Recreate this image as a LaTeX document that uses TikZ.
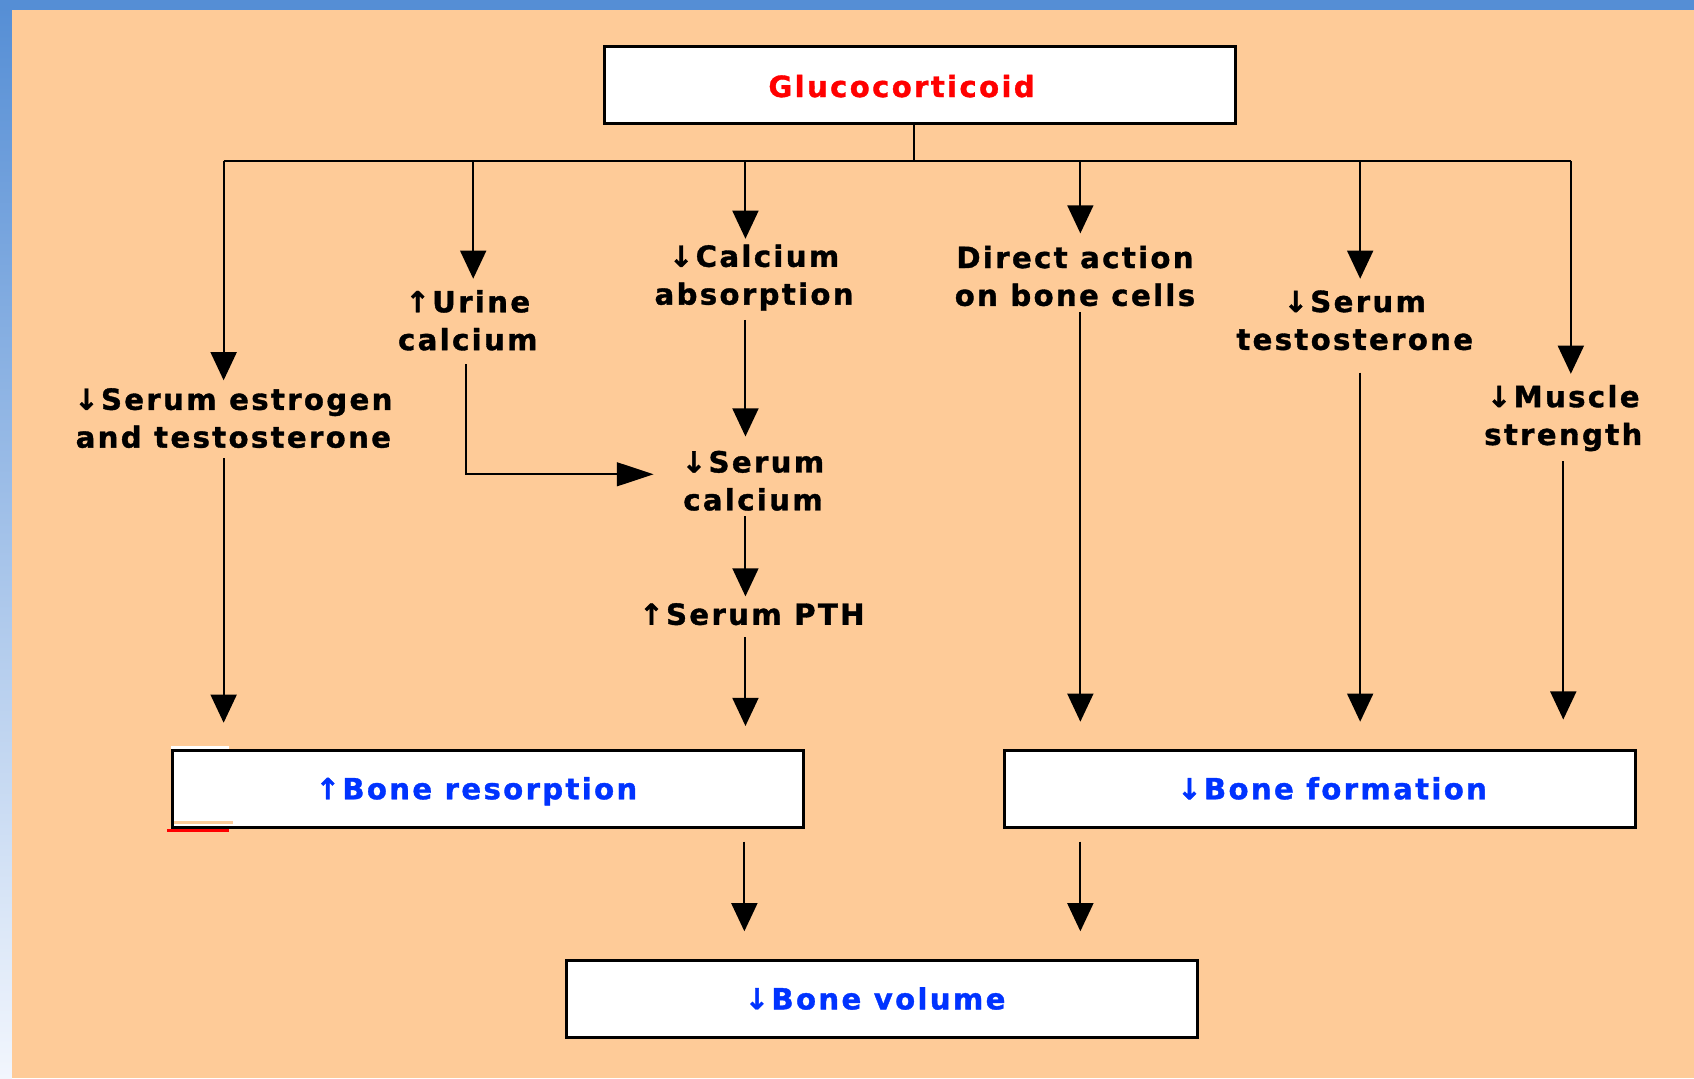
\documentclass[tikz,border=0pt]{standalone}
\usepackage{fontspec}
\setmainfont{DejaVu Sans}[LetterSpace=8, BoldFeatures={FakeBold=1.2}]
\usetikzlibrary{arrows.meta}
\definecolor{peach}{RGB}{254,203,152}
\definecolor{frameblue}{RGB}{85,142,213}
\definecolor{framelight}{RGB}{242,246,253}
\definecolor{txtblue}{RGB}{0,51,255}
\definecolor{txtred}{RGB}{255,0,0}
\begin{document}
\begin{tikzpicture}[x=0.5pt,y=-0.5pt,
  box/.style={draw=black, line width=1.4pt, fill=white, minimum width=292pt, minimum height=35.5pt, inner sep=0pt, text height=9.8pt, text depth=0pt, font=\fontsize{13.5}{17.5}\selectfont\bfseries},
  lbl/.style={align=center, inner sep=0pt, font=\fontsize{13.5}{17.5}\selectfont\bfseries},
  conn/.style={line width=0.9pt, -{Triangle[length=13pt,width=12pt]}},
  hconn/.style={line width=0.9pt, -{Triangle[length=17pt,width=11pt]}},
  plain/.style={line width=0.9pt}]
% background and frame
\fill[peach] (0,0) rectangle (1568,998);
\shade[top color=frameblue, bottom color=framelight] (0,0) rectangle (11,998);
\fill[frameblue] (0,0) rectangle (1568,9.3);
\useasboundingbox (0,0) rectangle (1568,998);

% boxes
\node[box, text=txtred, text height=11.3pt] (gluc) at (851.5,78.5) {Glucocorticoid\hspace*{17pt}};
\node[box, text=txtblue] (res) at (452,730) {↑Bone resorption\hspace*{11pt}};
\node[box, text=txtblue] (form) at (1222,730) {\hspace*{11pt}↓Bone formation};
\node[box, text=txtblue] (vol) at (816,924.5) {↓Bone volume\hspace*{6pt}};

% artifacts at the corner of the resorption box
\fill[white] (158,690.5) rectangle (212,693);
\fill[peach] (161,760) rectangle (216,763);
\fill[red] (155,767) rectangle (212,770);

% labels
\node[lbl] (estr) at (216,387) {↓Serum estrogen\\and testosterone};
\node[lbl] (urine) at (433,296.5) {↑Urine\\calcium};
\node[lbl] (cabs) at (698,257) {↓Calcium\\absorption};
\node[lbl] (direct) at (995,255.5) {Direct action\\on bone cells};
\node[lbl] (stest) at (1254,296.5) {↓Serum\\testosterone};
\node[lbl] (muscle) at (1447,387) {↓Muscle\\strength};
\node[lbl] (scal) at (697,445) {↓Serum\\calcium};
\node[lbl] (pth) at (696,568.5) {↑Serum PTH};

% bus
\coordinate (stem) at (846,149);
\coordinate (busL) at (207,149);
\coordinate (busR) at (1454,149);
\draw[plain] (gluc.south -| stem) -- (stem);
\draw[plain] (busL) -- (busR);

% drop end points
\coordinate (dUrine) at (438,149);
\coordinate (dCabs) at (690,149);
\coordinate (dDirect) at (1000,149);
\coordinate (dStest) at (1259,149);
\coordinate (tEstr) at (207,352);
\coordinate (tUrine) at (438,258);
\coordinate (tCabs) at (690,221);
\coordinate (tDirect) at (1000,216);
\coordinate (tStest) at (1259,258);
\coordinate (tMuscle) at (1454,346);
\draw[conn] (busL) -- (tEstr);
\draw[conn] (dUrine) -- (tUrine);
\draw[conn] (dCabs) -- (tCabs);
\draw[conn] (dDirect) -- (tDirect);
\draw[conn] (dStest) -- (tStest);
\draw[conn] (busR) -- (tMuscle);

% middle connectors
\coordinate (sEstr) at (207,424);   \coordinate (eEstr) at (207,669);
\coordinate (sUrine) at (431,337);  \coordinate (cUrine) at (431,439); \coordinate (eUrine) at (605,439);
\coordinate (sCabs) at (690,296);   \coordinate (eCabs) at (690,404);
\coordinate (sScal) at (690,478);   \coordinate (eScal) at (690,552);
\coordinate (sPth) at (690,590);    \coordinate (ePth) at (690,672);
\coordinate (sDirect) at (1000,289); \coordinate (eDirect) at (1000,668);
\coordinate (sStest) at (1259,345); \coordinate (eStest) at (1259,668);
\coordinate (sMuscle) at (1447,427); \coordinate (eMuscle) at (1447,666);
\draw[conn] (sEstr) -- (eEstr);
\draw[hconn] (sUrine) -- (cUrine) -- (eUrine);
\draw[conn] (sCabs) -- (eCabs);
\draw[conn] (sScal) -- (eScal);
\draw[conn] (sPth) -- (ePth);
\draw[conn] (sDirect) -- (eDirect);
\draw[conn] (sStest) -- (eStest);
\draw[conn] (sMuscle) -- (eMuscle);

% bottom connectors
\coordinate (sRes) at (689,779);  \coordinate (eRes) at (689,862);
\coordinate (sForm) at (1000,779); \coordinate (eForm) at (1000,862);
\draw[conn] (sRes) -- (eRes);
\draw[conn] (sForm) -- (eForm);
\end{tikzpicture}
\end{document}
